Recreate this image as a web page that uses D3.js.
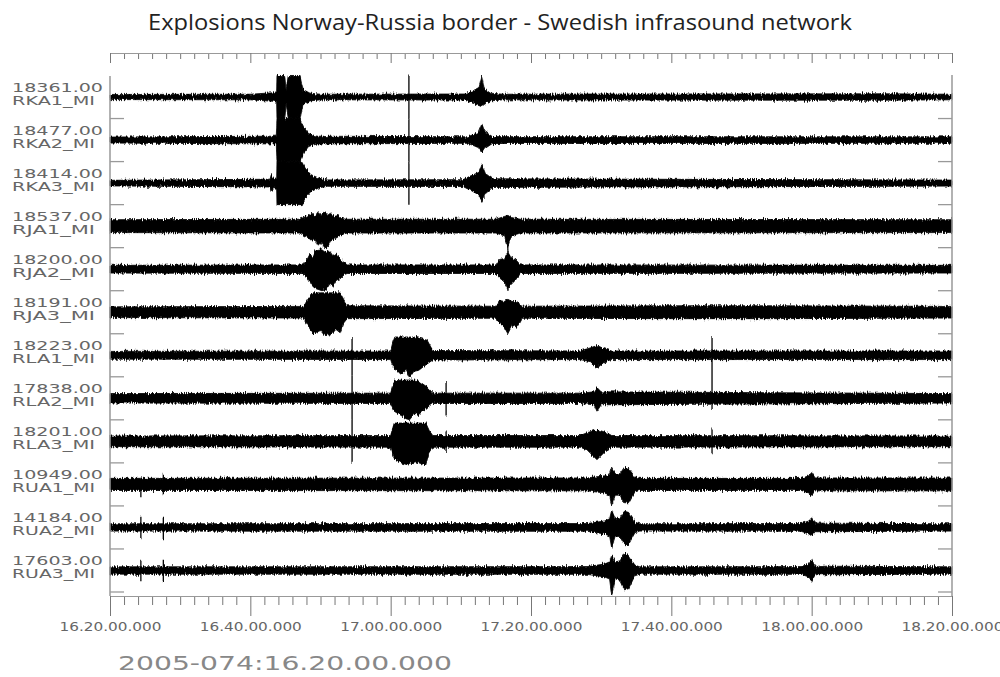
<!DOCTYPE html>
<html>
<head>
<meta charset="UTF-8">
<title>Explosions Norway-Russia border</title>
<script src="https://cdn.jsdelivr.net/npm/d3@7"></script>
<style>
  body { margin: 0; background: #fff; }
  svg { display: block; }
  .axis .domain { stroke: #999; stroke-width: 1.2px; }
  .axis line { stroke: #777; stroke-width: 1px; }
  .axis text { font-family: "DejaVu Sans", sans-serif; font-size: 12px; fill: #666; }
  .lbl { font-family: "DejaVu Sans", sans-serif; font-size: 12px; fill: #666; }
</style>
</head>
<body>
<div id="chart"></div>
<script>
// station names and gain labels, top to bottom
var stations = ["RKA1_MI","RKA2_MI","RKA3_MI","RJA1_MI","RJA2_MI","RJA3_MI",
                "RLA1_MI","RLA2_MI","RLA3_MI","RUA1_MI","RUA2_MI","RUA3_MI"];
var gains = ["18361.00","18477.00","18414.00","18537.00","18200.00","18191.00",
             "18223.00","17838.00","18201.00","10949.00","14184.00","17603.00"];

// envelopes: [minutes after 16:20, upper amp, lower amp] (1 = half trace band)
var rka1 = [[0,.12,.12],[20,.13,.13],[23.3,.2,.2],[23.75,.25,.25],[23.8,1,1],[24.9,1,1],[25.1,.3,.3],[25.4,1,1],[27.1,1,1],
  [27.5,.35,.35],[28.5,.18,.18],[30,.13,.13],[50.5,.14,.14],[51.8,.3,.3],[52.6,.45,.4],[53,.95,.45],[53.3,.4,.35],
  [54.2,.18,.18],[56,.13,.13],[70,.14,.14],[110,.15,.15],[120,.13,.13]];
var rka2 = [[0,.14,.14],[23.7,.18,.18],[23.8,1,1],[27.1,1,1],[27.6,.6,.6],[28.3,.3,.3],[29.5,.18,.18],[51,.15,.15],
  [52.5,.35,.35],[53,.75,.6],[53.4,.4,.4],[54.5,.16,.16],[120,.15,.15]];
var rka3 = [[0,.13,.13],[22.8,.18,.18],[23,.4,.4],[23.3,.2,.2],[23.75,.25,.25],[23.8,1,1],[27.4,1,1],[27.8,.7,.7],
  [28.6,.4,.4],[29.8,.22,.22],[31,.15,.15],[50.3,.16,.16],[51.5,.35,.35],[52.6,.5,.55],[53,.85,.85],[53.5,.45,.5],
  [54.5,.2,.2],[120,.14,.14]];
var rja1 = [[0,.3,.3],[27,.32,.32],[28.3,.5,.55],[28.8,.6,.7],[29.2,.45,.6],[29.6,.65,.9],[30.1,.5,.75],[30.6,.7,1],
  [31,.5,1],[31.4,.6,.7],[32,.45,.6],[32.5,.5,.5],[33,.35,.4],[33.8,.32,.32],
  [55,.32,.32],[56.2,.45,.45],[56.7,.5,.95],[57.2,.4,.45],[58.5,.32,.32],[120,.3,.3]];
var rja2 = [[0,.18,.18],[27.5,.2,.2],[28,.4,.35],[28.5,.7,.6],[28.9,.55,.8],[29.3,.9,.9],[30.2,.95,1],[30.8,.8,.95],
  [31.3,.85,.7],[31.8,.6,.8],[32.3,.7,.5],[32.8,.45,.45],[33.4,.3,.25],[33.8,.2,.2],
  [55,.2,.2],[55.5,.45,.4],[56.2,.5,.6],[56.7,.8,.9],[57.2,.5,.7],[57.8,.45,.5],[58.5,.2,.2],[120,.18,.18]];
var rja3 = [[0,.25,.25],[27.6,.27,.27],[28.2,.6,.6],[28.9,.9,1],[30,.9,.85],[30.5,.9,1.05],[31.5,.9,1.05],
  [32.2,.9,.8],[32.8,.9,.95],[33.3,.6,.5],[33.8,.3,.3],[55,.28,.28],
  [55.5,.55,.5],[56.2,.5,.7],[56.7,.6,1],[57.3,.5,.6],[58,.5,.7],[58.7,.28,.28],[80,.3,.3],[95,.3,.3],[120,.27,.27]];
var rla1 = [[0,.18,.18],[40,.2,.2],[40.3,.6,.5],[40.6,.85,.6],[41.5,.85,.9],[42.2,.85,.7],[42.7,.85,1.05],[43.3,.85,.75],
  [44,.8,.7],[45.2,.7,.4],[46,.22,.22],[67,.2,.2],[68.5,.35,.3],[69.4,.45,.6],[70.5,.3,.3],[71.5,.2,.2],[120,.2,.2]];
var rla2 = [[0,.22,.22],[40,.24,.24],[40.5,.8,.6],[41.5,.85,.8],[42.2,.85,.95],[42.7,.85,1],[43.4,.85,.7],[44,.8,.75],
  [45.3,.5,.4],[46,.24,.24],[67,.24,.24],[69,.3,.3],[69.4,.5,.6],[70,.3,.3],[120,.22,.22]];
var rla3 = [[0,.25,.25],[40,.27,.27],[40.5,.85,.8],[41.5,.85,1],[42.5,.85,1.1],[43.5,.85,.95],[45,.85,1.1],
  [45.5,.5,.5],[46,.27,.27],[67,.27,.27],[68,.4,.4],[69.4,.55,.85],[70.8,.4,.4],[71.5,.27,.27],[120,.25,.25]];
var rua1 = [[0,.28,.28],[68,.3,.3],[70.5,.4,.4],[71.2,.5,.5],[71.5,.8,1],[72,.5,.5],[72.7,.5,.5],[73.3,.8,.9],
  [73.9,.75,.9],[74.8,.35,.35],[75.5,.28,.28],[98.5,.28,.28],[99.6,.4,.4],[100,.55,.5],[100.5,.3,.3],[120,.3,.3]];
var rua2 = [[0,.17,.17],[68,.18,.18],[70.5,.3,.3],[71.2,.4,.4],[71.5,.8,.95],[72,.4,.4],[72.7,.45,.45],[73.3,.75,.8],
  [73.9,.7,.8],[74.8,.25,.25],[75.5,.17,.17],[98.5,.18,.18],[99.6,.3,.3],[100,.45,.4],[100.5,.2,.2],[120,.17,.17]];
var rua3 = [[0,.17,.17],[68,.18,.18],[70.5,.3,.3],[71.2,.4,.4],[71.5,.7,1.15],[72,.4,.4],[72.7,.45,.45],[73.3,.8,.9],
  [73.9,.7,.85],[74.8,.25,.25],[75.5,.17,.17],[98.5,.18,.18],[99.6,.3,.3],[100,.5,.5],[100.5,.2,.2],[120,.17,.17]];
var envelopes = [rka1, rka2, rka3, rja1, rja2, rja3, rla1, rla2, rla3, rua1, rua2, rua3];

// single-sample spikes: [station, minutes after 16:20, up, down]
var spikes = [
  ["RKA1_MI",42.6,1,1],["RKA2_MI",42.6,1,1],["RKA3_MI",42.6,1,1],
  ["RJA1_MI",56.7,.5,1.1],["RJA2_MI",56.7,.9,1],
  ["RLA1_MI",34.5,.85,1],["RLA2_MI",34.5,1,1],["RLA3_MI",34.5,1,1],
  ["RLA2_MI",47.9,.8,.8],["RLA3_MI",47.9,.5,.5],
  ["RLA1_MI",85.8,.85,2.5],["RLA3_MI",85.8,.6,.6],
  ["RUA1_MI",4.4,.4,.6],["RUA2_MI",4.4,.5,.5],["RUA3_MI",4.4,.5,.5],
  ["RUA1_MI",7.6,.5,.5],["RUA2_MI",7.6,.5,.6],["RUA3_MI",7.6,.5,.5]
];

var title = "Explosions Norway-Russia border - Swedish infrasound network";
var startLabel = "2005-074:16.20.00.000";

var width = 1000, height = 677;
var left = 110, right = 952;

var t0 = new Date(Date.UTC(2005, 2, 15, 16, 20));
var t1 = new Date(t0.getTime() + 120 * 60000);
function toDate(m) { return new Date(t0.getTime() + m * 60000); }

var x = d3.scaleUtc().domain([t0, t1]).range([left, right]);
var band = d3.scaleBand().domain(stations).range([75.5, 592]);
var half = band.bandwidth() / 2;
var amp = d3.scaleLinear().domain([-1, 1]).range([half, -half]);
var fmt = d3.utcFormat("%H.%M.%S.%L");

var svg = d3.select("#chart").append("svg")
  .attr("width", width).attr("height", height);

// rough noise texture for the traces
var defs = svg.append("defs");
var f = defs.append("filter").attr("id", "rough")
  .attr("x", "-2%").attr("y", "-10%").attr("width", "104%").attr("height", "120%");
f.append("feTurbulence").attr("type", "fractalNoise").attr("baseFrequency", "0.9 0.15")
  .attr("numOctaves", 2).attr("seed", 7).attr("result", "n");
f.append("feColorMatrix").attr("in", "n").attr("type", "matrix")
  .attr("values", "0 0 0 0 0.5  0 1 0 0 0  0 0 0 0 0  0 0 0 0 1").attr("result", "m");
f.append("feDisplacementMap").attr("in", "SourceGraphic").attr("in2", "m")
  .attr("scale", 6).attr("xChannelSelector", "R").attr("yChannelSelector", "G");

svg.append("text")
  .attr("x", 500).attr("y", 30)
  .attr("text-anchor", "middle")
  .attr("textLength", 704).attr("lengthAdjust", "spacingAndGlyphs")
  .style("font-family", "'Liberation Sans Narrow', 'Open Sans', sans-serif")
  .style("font-size", "21px").style("fill", "#222")
  .text(title);

/* traces */
var area = d3.area()
  .x(function(d) { return x(toDate(d[0])); })
  .y0(function(d) { return amp(-d[2]); })
  .y1(function(d) { return amp(d[1]); });

var traces = svg.append("g").attr("filter", "url(#rough)");
stations.forEach(function(s, i) {
  var g = traces.append("g")
    .attr("transform", "translate(0," + (band(s) + half) + ")");
  g.append("path")
    .attr("d", area(envelopes[i]))
    .attr("fill", "#000")
    .attr("stroke", "#000").attr("stroke-width", 0.8);
  g.selectAll("line")
    .data(spikes.filter(function(d) { return d[0] === s; }))
    .enter().append("line")
    .attr("x1", function(d) { return x(toDate(d[1])); })
    .attr("x2", function(d) { return x(toDate(d[1])); })
    .attr("y1", function(d) { return amp(d[2]); })
    .attr("y2", function(d) { return amp(-d[3]); })
    .attr("stroke", "#000").attr("stroke-width", 1.3);
});

/* labels */
stations.forEach(function(s, i) {
  var cy = band(s) + half;
  svg.append("text").attr("class", "lbl")
    .attr("x", 12).attr("y", cy - 5.5)
    .attr("textLength", 91).attr("lengthAdjust", "spacingAndGlyphs")
    .text(gains[i]);
  svg.append("text").attr("class", "lbl")
    .attr("x", 12).attr("y", cy + 7.5)
    .attr("textLength", 83).attr("lengthAdjust", "spacingAndGlyphs")
    .text(s);
});

/* frame: vertical sides and separator ticks */
svg.append("line").attr("x1", left).attr("x2", left).attr("y1", 76).attr("y2", 596)
  .attr("stroke", "#999").attr("stroke-width", 1.5);
svg.append("line").attr("x1", right).attr("x2", right).attr("y1", 75).attr("y2", 596)
  .attr("stroke", "#999").attr("stroke-width", 1.5);
var seps = stations.slice(1).map(function(s) { return band(s); }).concat([band.range()[1]]);
svg.selectAll(".sepL").data(seps).enter().append("line")
  .attr("x1", left).attr("x2", left + 14)
  .attr("y1", function(d) { return d; }).attr("y2", function(d) { return d; })
  .attr("stroke", "#999").attr("stroke-width", 1.3);
svg.selectAll(".sepR").data(seps).enter().append("line")
  .attr("x1", right - 14).attr("x2", right)
  .attr("y1", function(d) { return d; }).attr("y2", function(d) { return d; })
  .attr("stroke", "#999").attr("stroke-width", 1.3);

/* time axes */
var major = d3.utcMinute.every(20).range(t0, new Date(t1.getTime() + 1));
var minor = d3.utcMinute.every(2).range(t0, new Date(t1.getTime() + 1))
  .filter(function(d) { return d.getUTCMinutes() % 20 !== 0; });

function timeAxis(y, minorLen, majorLen, labels) {
  var g = svg.append("g").attr("class", "axis").attr("transform", "translate(0," + y + ")");
  g.append("g").call(d3.axisBottom(x).tickValues(minor).tickSize(minorLen).tickFormat("").tickSizeOuter(0));
  var m = g.append("g").call(d3.axisBottom(x).tickValues(major).tickSize(majorLen)
    .tickFormat(labels ? fmt : "").tickSizeOuter(0));
  m.selectAll("text").attr("y", 35).attr("dy", 0)
    .attr("textLength", 102).attr("lengthAdjust", "spacingAndGlyphs");
}
timeAxis(53, 6, 10, false);
timeAxis(596, 9, 20, true);

svg.append("text")
  .attr("x", 118).attr("y", 670)
  .attr("textLength", 334).attr("lengthAdjust", "spacingAndGlyphs")
  .style("font-family", "'DejaVu Sans', sans-serif")
  .style("font-size", "19px").style("fill", "#888")
  .text(startLabel);
</script>
</body>
</html>
